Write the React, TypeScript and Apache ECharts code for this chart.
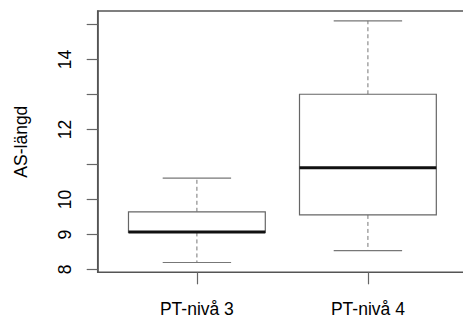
import React, { useEffect, useRef } from "react";
import * as echarts from "echarts";

const categories = ["PT-nivå 3", "PT-nivå 4"];
const lowerWhisker = [8.2, 8.54];
const q1 = [9.06, 9.56];
const median = [9.07, 10.91];
const q3 = [9.65, 13.01];
const upperWhisker = [10.61, 15.11];
const yTicks = [8, 9, 10, 11, 12, 13, 14, 15];
const yTickLabels = [8, 9, 10, 12, 14];
const xTicks = [1, 2];
const yTitle = "AS-längd";

const FONT = "'Liberation Sans', Arial, Helvetica, sans-serif";

export default function App() {
  const ref = useRef<HTMLDivElement>(null);
  useEffect(() => {
    document.body.style.margin = "0";
    const chart = echarts.init(ref.current!, null, { renderer: "svg" });
    const data = categories.map((_, i) => [
      i + 1,
      lowerWhisker[i],
      q1[i],
      median[i],
      q3[i],
      upperWhisker[i],
    ]);
    const whiskerStyle = { stroke: "#777", lineWidth: 1, lineDash: [4, 3] };
    const capStyle = { stroke: "#777", lineWidth: 1.2 };
    chart.setOption({
      animation: false,
      grid: {
        left: 97.7,
        top: 11,
        width: 369.4,
        height: 261.3,
        outerBoundsMode: "none",
        containLabel: false,
        show: true,
        borderColor: "#555",
        borderWidth: 1.5,
        backgroundColor: "transparent",
      },
      xAxis: {
        type: "value",
        min: 0.42,
        max: 2.58,
        splitLine: { show: false },
        axisLine: { show: false },
        axisTick: {
          show: true,
          length: 12,
          customValues: xTicks,
          lineStyle: { color: "#666", width: 1.2 },
        },
        axisLabel: {
          customValues: xTicks,
          formatter: (v: number) => categories[Math.round(v) - 1] ?? "",
          color: "#000",
          fontSize: 17.5,
          fontFamily: FONT,
          margin: 28,
        },
      },
      yAxis: {
        type: "value",
        min: 7.92,
        max: 15.39,
        name: yTitle,
        nameLocation: "middle",
        nameGap: 68,
        nameTextStyle: { color: "#000", fontSize: 17.5, fontFamily: FONT },
        splitLine: { show: false },
        axisLine: { show: true, lineStyle: { color: "#555", width: 1.5 } },
        axisTick: {
          show: true,
          length: 11,
          customValues: yTicks,
          lineStyle: { color: "#666", width: 1.2 },
        },
        axisLabel: {
          customValues: yTickLabels,
          rotate: 90,
          color: "#000",
          fontSize: 17.5,
          fontFamily: FONT,
          margin: 24,
        },
      },
      series: [
        {
          type: "custom",
          data,
          encode: { x: 0, y: [1, 2, 3, 4, 5] },
          renderItem: (params: any, api: any) => {
            const x = api.value(0);
            const lo = api.value(1);
            const b1 = api.value(2);
            const md = api.value(3);
            const b3 = api.value(4);
            const hi = api.value(5);
            const pTL = api.coord([x - 0.4, b3]);
            const pBR = api.coord([x + 0.4, b1]);
            const pMidL = api.coord([x - 0.4, md]);
            const pMidR = api.coord([x + 0.4, md]);
            const pHi = api.coord([x, hi]);
            const pLo = api.coord([x, lo]);
            const pB3 = api.coord([x, b3]);
            const pB1 = api.coord([x, b1]);
            const capHiL = api.coord([x - 0.2, hi]);
            const capHiR = api.coord([x + 0.2, hi]);
            const capLoL = api.coord([x - 0.2, lo]);
            const capLoR = api.coord([x + 0.2, lo]);
            return {
              type: "group",
              children: [
                {
                  type: "line",
                  shape: { x1: pB3[0], y1: pB3[1], x2: pHi[0], y2: pHi[1] },
                  style: whiskerStyle,
                },
                {
                  type: "line",
                  shape: { x1: pB1[0], y1: pB1[1], x2: pLo[0], y2: pLo[1] },
                  style: whiskerStyle,
                },
                {
                  type: "line",
                  shape: { x1: capHiL[0], y1: capHiL[1], x2: capHiR[0], y2: capHiR[1] },
                  style: capStyle,
                },
                {
                  type: "line",
                  shape: { x1: capLoL[0], y1: capLoL[1], x2: capLoR[0], y2: capLoR[1] },
                  style: capStyle,
                },
                {
                  type: "rect",
                  shape: {
                    x: pTL[0],
                    y: pTL[1],
                    width: pBR[0] - pTL[0],
                    height: pBR[1] - pTL[1],
                  },
                  style: { fill: "#fff", stroke: "#666", lineWidth: 1.2 },
                },
                {
                  type: "line",
                  shape: { x1: pMidL[0], y1: pMidL[1], x2: pMidR[0], y2: pMidR[1] },
                  style: { stroke: "#111", lineWidth: 3 },
                },
              ],
            };
          },
        },
      ],
    });
    return () => chart.dispose();
  }, []);
  return <div ref={ref} style={{ width: 463, height: 320 }} />;
}
